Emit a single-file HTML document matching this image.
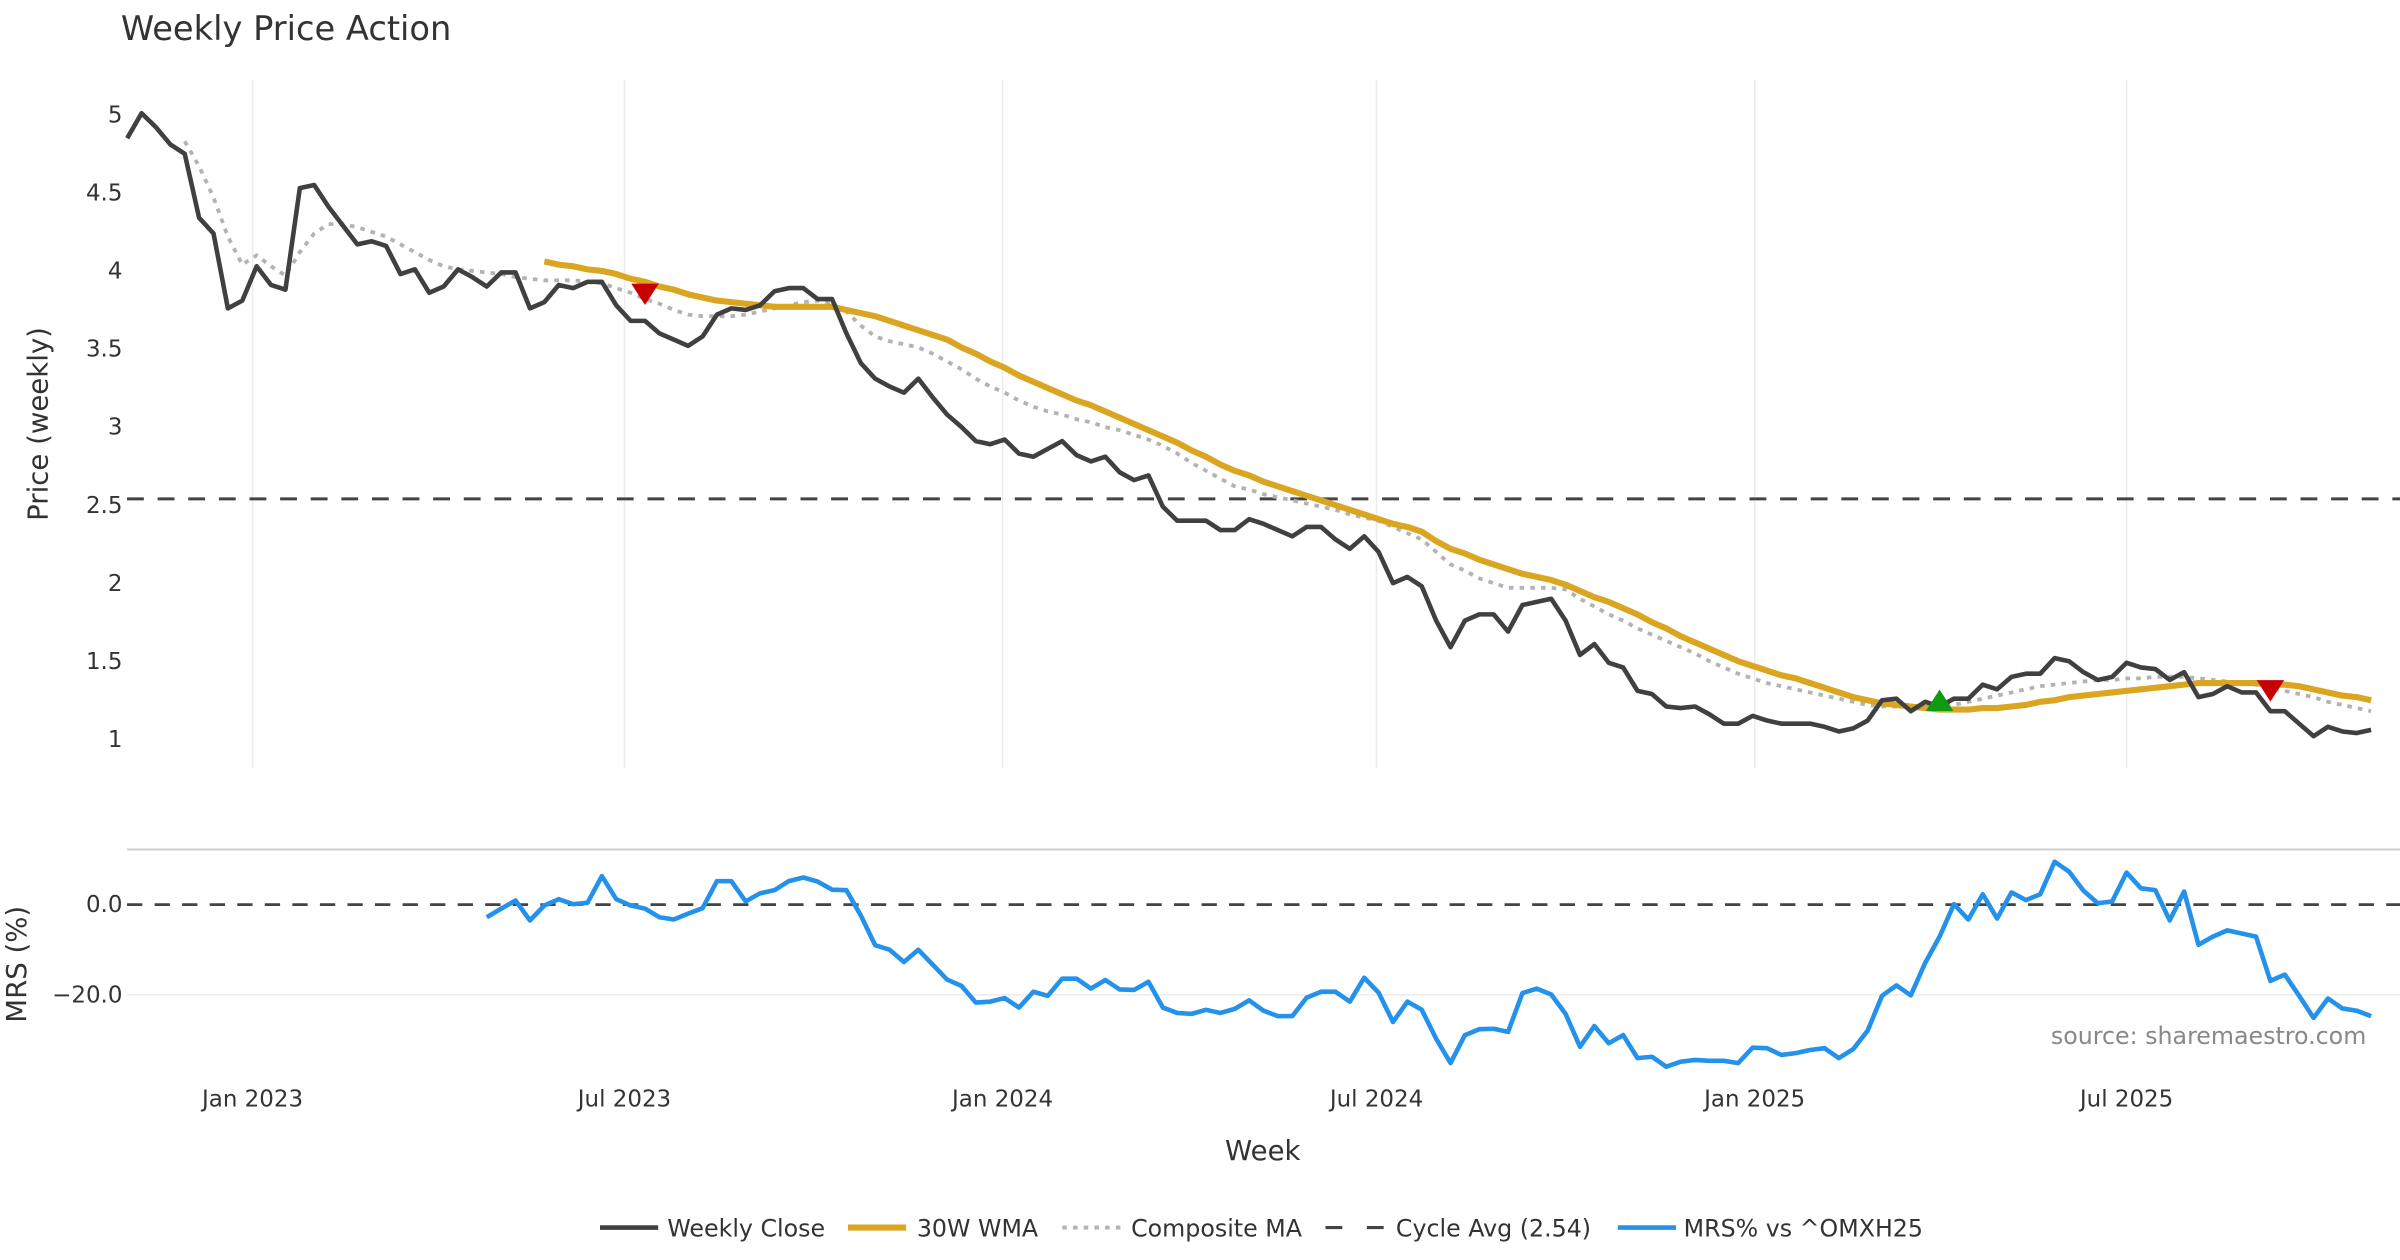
<!DOCTYPE html>
<html><head><meta charset="utf-8">
<style>
html,body{margin:0;padding:0;background:#fff;}
svg{display:block;font-family:"DejaVu Sans","Liberation Sans",sans-serif;}
</style></head>
<body>
<svg id="chart" width="2400" height="1260" viewBox="0 0 1568 823.2" xmlns="http://www.w3.org/2000/svg">
<text x="79" y="26" font-size="22" fill="#333">Weekly Price Action</text>
<g id="grid"></g>
<g id="axes"></g>
<g id="series"></g>
<text transform="translate(31,277) rotate(-90)" text-anchor="middle" font-size="18" fill="#333">Price (weekly)</text>
<text transform="translate(17,630) rotate(-90)" text-anchor="middle" font-size="18" fill="#333">MRS (%)</text>
<text x="825" y="758" text-anchor="middle" font-size="18" fill="#333">Week</text>
<text x="1546" y="682" text-anchor="end" font-size="15.5" fill="#888">source: sharemaestro.com</text>
<g id="legend"></g>
</svg>
<script>
const startDate = "2022-11-01";
const closeValues = [4.85,5.01,4.92,4.81,4.75,4.34,4.24,3.76,3.81,4.03,3.91,3.88,4.53,4.55,4.41,4.29,4.17,4.19,4.16,3.98,4.01,3.86,3.90,4.01,3.96,3.90,3.99,3.99,3.76,3.80,3.91,3.89,3.93,3.93,3.78,3.68,3.68,3.60,3.56,3.52,3.58,3.72,3.76,3.75,3.78,3.87,3.89,3.89,3.82,3.82,3.60,3.41,3.31,3.26,3.22,3.31,3.19,3.08,3.00,2.91,2.89,2.92,2.83,2.81,2.86,2.91,2.82,2.78,2.81,2.71,2.66,2.69,2.49,2.40,2.40,2.40,2.34,2.34,2.41,2.38,2.34,2.30,2.36,2.36,2.28,2.22,2.30,2.20,2.00,2.04,1.98,1.76,1.59,1.76,1.80,1.80,1.69,1.86,1.88,1.90,1.76,1.54,1.61,1.49,1.46,1.31,1.29,1.21,1.20,1.21,1.16,1.10,1.10,1.15,1.12,1.10,1.10,1.10,1.08,1.05,1.07,1.12,1.25,1.26,1.18,1.24,1.21,1.26,1.26,1.35,1.32,1.40,1.42,1.42,1.52,1.50,1.43,1.38,1.40,1.49,1.46,1.45,1.38,1.43,1.27,1.29,1.34,1.30,1.30,1.18,1.18,1.10,1.02,1.08,1.05,1.04,1.06];
const wmaStart = 29;
const wmaValues = [4.06,4.04,4.03,4.01,4.00,3.98,3.95,3.93,3.90,3.88,3.85,3.83,3.81,3.80,3.79,3.78,3.77,3.77,3.77,3.77,3.77,3.75,3.73,3.71,3.68,3.65,3.62,3.59,3.56,3.51,3.47,3.42,3.38,3.33,3.29,3.25,3.21,3.17,3.14,3.10,3.06,3.02,2.98,2.94,2.90,2.85,2.81,2.76,2.72,2.69,2.65,2.62,2.59,2.56,2.53,2.50,2.47,2.44,2.41,2.38,2.36,2.33,2.27,2.22,2.19,2.15,2.12,2.09,2.06,2.04,2.02,1.99,1.95,1.91,1.88,1.84,1.80,1.75,1.71,1.66,1.62,1.58,1.54,1.50,1.47,1.44,1.41,1.39,1.36,1.33,1.30,1.27,1.25,1.23,1.22,1.21,1.20,1.19,1.19,1.19,1.20,1.20,1.21,1.22,1.24,1.25,1.27,1.28,1.29,1.30,1.31,1.32,1.33,1.34,1.35,1.36,1.36,1.36,1.36,1.36,1.35,1.35,1.34,1.32,1.30,1.28,1.27,1.25];
const compStart = 4;
const compValues = [4.83,4.67,4.47,4.22,4.04,4.10,4.03,3.97,4.12,4.24,4.30,4.30,4.28,4.25,4.22,4.17,4.12,4.07,4.03,4.01,4.00,3.99,3.98,3.96,3.95,3.94,3.94,3.94,3.93,3.92,3.89,3.86,3.82,3.79,3.75,3.72,3.71,3.71,3.71,3.72,3.74,3.76,3.78,3.80,3.81,3.79,3.74,3.65,3.58,3.55,3.53,3.51,3.47,3.42,3.37,3.31,3.26,3.22,3.17,3.13,3.10,3.08,3.05,3.03,3.00,2.98,2.95,2.92,2.88,2.83,2.77,2.72,2.67,2.62,2.60,2.57,2.55,2.53,2.51,2.49,2.47,2.44,2.42,2.40,2.36,2.32,2.28,2.20,2.12,2.08,2.03,2.00,1.97,1.97,1.97,1.97,1.96,1.90,1.85,1.80,1.76,1.71,1.67,1.63,1.59,1.55,1.50,1.46,1.42,1.39,1.36,1.34,1.32,1.30,1.28,1.26,1.24,1.22,1.21,1.21,1.21,1.21,1.21,1.22,1.24,1.26,1.28,1.30,1.32,1.34,1.35,1.36,1.37,1.38,1.38,1.39,1.39,1.40,1.40,1.40,1.39,1.38,1.37,1.36,1.35,1.33,1.31,1.29,1.27,1.24,1.22,1.20,1.18];
const mrsStart = 25;
const mrsValues = [-2.8,-0.9,0.9,-3.5,-0.2,1.2,0.1,0.4,6.3,1.2,-0.2,-0.9,-2.8,-3.3,-2.0,-0.8,5.2,5.2,0.7,2.5,3.2,5.2,6.0,5.1,3.3,3.2,-2.4,-9.0,-10.0,-12.7,-10.0,-13.3,-16.6,-18.0,-21.7,-21.5,-20.7,-22.8,-19.3,-20.2,-16.4,-16.4,-18.6,-16.7,-18.8,-18.9,-17.1,-22.8,-24.0,-24.2,-23.3,-24.0,-23.1,-21.2,-23.5,-24.7,-24.7,-20.6,-19.3,-19.3,-21.5,-16.2,-19.5,-26.0,-21.5,-23.3,-29.7,-35.1,-28.9,-27.6,-27.5,-28.2,-19.6,-18.6,-19.9,-24.2,-31.5,-26.9,-30.7,-28.9,-34.0,-33.7,-35.9,-34.8,-34.4,-34.6,-34.6,-35.1,-31.7,-31.8,-33.3,-32.9,-32.2,-31.8,-34.0,-32.0,-27.9,-20.2,-17.9,-20.1,-12.9,-7.1,0.1,-3.3,2.3,-3.1,2.7,1.0,2.3,9.5,7.3,3.1,0.3,0.7,7.1,3.6,3.2,-3.5,2.9,-8.9,-7.1,-5.7,-6.4,-7.1,-16.9,-15.5,-20.2,-25.1,-20.8,-23.0,-23.5,-24.7];
const cycleAvg = 2.54;
const sellSignals = [[36,3.85],[149,1.31]];
const buySignals = [[126,1.25]];
const priceTicks = [1,1.5,2,2.5,3,3.5,4,4.5,5];
const priceTickLabels = ["1","1.5","2","2.5","3","3.5","4","4.5","5"];
const mrsTicks = [0,-20];
const mrsTickLabels = ["0.0","\u221220.0"];
const dateTicks = ["2023-01-01","2023-07-01","2024-01-01","2024-07-01","2025-01-01","2025-07-01"];
const dateTickLabels = ["Jan 2023","Jul 2023","Jan 2024","Jul 2024","Jan 2025","Jul 2025"];

const NS="http://www.w3.org/2000/svg";
const DAY=86400000, T0=Date.UTC(2023,0,1);
function xDate(s){const [y,m,d]=s.split("-").map(Number);return 165+(Date.UTC(y,m-1,d)-T0)/DAY*1.3425;}
const startX=xDate(startDate);
function xIdx(i){return startX+i*7*1.3425;}
function yP(v){return 483-(v-1)*102;}
function yM(v){return 591-v*2.95;}
function mk(tag,attrs,parent){const e=document.createElementNS(NS,tag);for(const k in attrs)e.setAttribute(k,attrs[k]);parent.appendChild(e);return e;}
const grid=document.getElementById("grid"),axes=document.getElementById("axes"),ser=document.getElementById("series"),leg=document.getElementById("legend");

dateTicks.forEach((d,k)=>{
  const x=xDate(d);
  const g=mk("line",{x1:x,x2:x,y1:52,y2:502,stroke:"#ececec","stroke-width":1},grid);
  
  
  const t=mk("text",{x:x,y:723,"text-anchor":"middle","font-size":15,fill:"#333"},axes);
  t.textContent=dateTickLabels[k];
  
  
});
priceTicks.forEach((v,k)=>{
  const t=mk("text",{x:80,y:yP(v)+5,"text-anchor":"end","font-size":15,fill:"#333"},axes);
  t.textContent=priceTickLabels[k];
  
  
});
const sep=mk("line",{x1:83,x2:1568,y1:555,y2:555,stroke:"#cfcfcf","stroke-width":1.3},grid);


mrsTicks.forEach((v,k)=>{
  if(v!==0){const g=mk("line",{x1:83,x2:1568,y1:yM(v),y2:yM(v),stroke:"#ececec","stroke-width":1},grid);
  
  }
  const t=mk("text",{x:80,y:yM(v)+5,"text-anchor":"end","font-size":15,fill:"#333"},axes);
  t.textContent=mrsTickLabels[k];
  
  
});
const z=mk("line",{x1:83,x2:1568,y1:yM(0),y2:yM(0),stroke:"#444","stroke-width":1.8,"stroke-dasharray":"10,8"},ser);


const cyc=mk("line",{x1:83,x2:1568,y1:yP(cycleAvg),y2:yP(cycleAvg),stroke:"#444","stroke-width":2,"stroke-dasharray":"11,9"},ser);



function path(vals,off,yf,attrs,name){
  const d=vals.map((v,j)=>(j?"L":"M")+xIdx(j+off).toFixed(2)+","+yf(v).toFixed(2)).join("");
  const p=mk("path",Object.assign({d:d,fill:"none","stroke-linejoin":"round"},attrs),ser);
  
  
}
path(compValues,compStart,yP,{stroke:"#b3b3b3","stroke-width":2.5,"stroke-dasharray":"3,4"},'composite-ma-line');
path(wmaValues,wmaStart,yP,{stroke:"#DAA520","stroke-width":4},'wma-30w-line');
path(closeValues,0,yP,{stroke:"#404040","stroke-width":3},'weekly-close-line');
path(mrsValues,mrsStart,yM,{stroke:"#2491ea","stroke-width":3},'mrs-line');

sellSignals.forEach(s=>{
  const x=xIdx(s[0]),y=yP(s[1]);
  const p=mk("path",{d:`M${x-9},${y-7}L${x+9},${y-7}L${x},${y+7}Z`,fill:"#c80000"},ser);
  
  
});
buySignals.forEach(s=>{
  const x=xIdx(s[0]),y=yP(s[1]);
  const p=mk("path",{d:`M${x-9},${y+7}L${x+9},${y+7}L${x},${y-7}Z`,fill:"#119a11"},ser);
  
  
});

const legendItems=[["Weekly Close",392,436,{stroke:"#404040","stroke-width":3}],["30W WMA",554,599,{stroke:"#DAA520","stroke-width":4}],["Composite MA",694,739,{stroke:"#b3b3b3","stroke-width":2.5,"stroke-dasharray":"3,4"}],["Cycle Avg (2.54)",866,912,{stroke:"#444","stroke-width":2,"stroke-dasharray":"11,16"}],["MRS% vs ^OMXH25",1057,1100,{stroke:"#2491ea","stroke-width":3}]];
legendItems.forEach(it=>{
  const l=mk("line",Object.assign({x1:it[1],x2:it[1]+38,y1:802,y2:802},it[3]),leg);
  
  
  const t=mk("text",{x:it[2],y:808,"font-size":15.5,fill:"#333"},leg);
  t.textContent=it[0];
  
  
});
</script>
</body></html>
